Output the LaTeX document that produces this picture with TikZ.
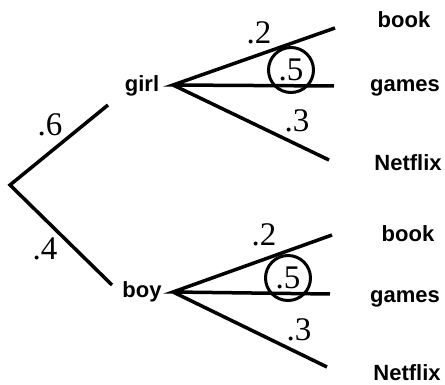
\documentclass[tikz,border=0pt]{standalone}
\usepackage{fontspec}
\setmainfont{Liberation Serif}
\newfontfamily\namefont{Liberation Sans}
\usetikzlibrary{positioning}

\begin{document}
\begin{tikzpicture}[x=1pt,y=-1pt,
  branch/.style={line width=3.5pt},
  outcome/.style={font=\namefont\bfseries\fontsize{22}{24}\selectfont,inner sep=0pt},
  prob/.style={font=\fontsize{33}{35}\selectfont,inner sep=0pt},
  ring/.style={prob,draw,circle,line width=3pt,minimum size=45pt}]
  \useasboundingbox (0,0) rectangle (445,385);
  % first split
  \coordinate (root) at (10,185);
  \coordinate (g-in) at (108,105);
  \coordinate (b-in) at (112,285);
  \draw[branch] (g-in) -- (root) -- (b-in);
  \node[prob] (p-girl) at (50,125) {.6};
  \node[prob] (p-boy) at (45,249) {.4};
  \node[outcome] (girl) at (142,86) {girl};
  \node[outcome] (boy) at (142,292) {boy};
  % girl fork
  \coordinate (g-fork) at (173,85);
  \node[outcome] (g-book) at (404,20) {book};
  \node[outcome] (g-games) at (405,88) {games};
  \node[outcome] (g-net) at (408,163) {Netflix};
  \coordinate (g-1) at (335,28);
  \coordinate (g-2) at (334,86);
  \coordinate (g-3) at (329,160);
  \draw[branch] (g-1) -- (g-fork) -- (g-2) (g-fork) -- (g-3);
  \node[prob] (g-p1) at (259,33) {.2};
  \node[ring] (g-p2) at (291,70) {.5};
  \node[prob] (g-p3) at (297,121) {.3};
  % boy fork
  \coordinate (b-fork) at (173,292);
  \node[outcome] (b-book) at (408,234) {book};
  \node[outcome] (b-games) at (405,299) {games};
  \node[outcome] (b-net) at (407,373) {Netflix};
  \coordinate (b-1) at (332,235);
  \coordinate (b-2) at (330,294);
  \coordinate (b-3) at (327,367);
  \draw[branch] (b-1) -- (b-fork) -- (b-2) (b-fork) -- (b-3);
  \node[prob] (b-p1) at (264,235) {.2};
  \node[ring] (b-p2) at (288,278) {.5};
  \node[prob] (b-p3) at (299,330) {.3};
\end{tikzpicture}
\end{document}
